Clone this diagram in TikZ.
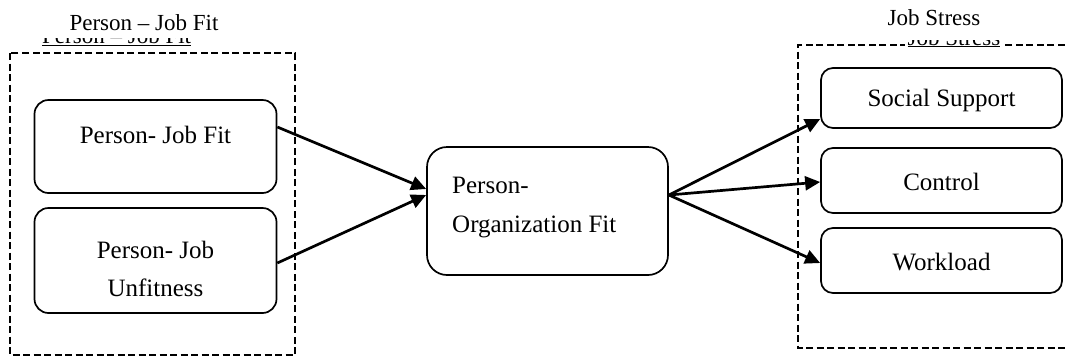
\documentclass[tikz,border=0pt]{standalone}
\usepackage{fontspec}
\setmainfont{Liberation Serif}
\usetikzlibrary{arrows.meta}
\begin{document}
\begin{tikzpicture}[x=1pt,y=-1pt,
  box/.style={draw, line width=1.7pt, rounded corners=14pt, inner sep=0pt},
  group/.style={draw, line width=2.3pt, dash pattern=on 7pt off 3.5pt},
  txt/.style={font=\fontsize{25}{30}\selectfont, inner sep=0pt, anchor=base},
  lbl/.style={font=\fontsize{23}{28}\selectfont, inner sep=0pt, anchor=base},
  conn/.style={line width=2.7pt, -{Triangle[length=15pt,width=14pt]}}]
\useasboundingbox (0,0) rectangle (1065,357);

% group frames
\draw[group] (10,53) rectangle (295,355);
\draw[group] (1075,45) -- (798,45) -- (798,348) -- (1075,348);

% half-hidden underlined headings
\begin{scope}
\clip (30,38.5) rectangle (250,50);
\node[lbl, anchor=base west] (hl) at (42,43.5) {\underline{Person – Job Fit}};
\end{scope}
\begin{scope}
\clip (895,40) rectangle (1015,49);
\node[lbl, fill=white, inner xsep=3pt] (hr) at (954,45) {\underline{Job Stress}};
\end{scope}

% headings
\node[lbl] (tl) at (144,30) {Person – Job Fit};
\node[lbl] (tr) at (934,25) {Job Stress};

% boxes
\node[box, minimum width=242pt, minimum height=93pt] (pjf) at (155.5,146.5) {};
\node[box, minimum width=242pt, minimum height=105pt] (pju) at (155.5,260.5) {};
\node[box, rounded corners=20pt, minimum width=241pt, minimum height=128pt] (pof) at (547.5,211) {};
\node[box, rounded corners=12pt, minimum width=241pt, minimum height=60pt] (ss) at (941.5,98) {};
\node[box, rounded corners=12pt, minimum width=241pt, minimum height=65pt] (ct) at (941.5,180.5) {};
\node[box, rounded corners=12pt, minimum width=241pt, minimum height=65pt] (wl) at (941.5,260.5) {};

% texts
\node[txt] (t1) at (155.5,143) {Person- Job Fit};
\node[txt] (t2) at (155.5,258) {Person- Job};
\node[txt] (t3) at (155.5,296) {Unfitness};
\node[txt, anchor=base west] (t4) at (452,193) {Person-};
\node[txt, anchor=base west] (t5) at (452,232) {Organization Fit};
\node[txt] (t6) at (941.5,106) {Social Support};
\node[txt] (t7) at (941.5,190) {Control};
\node[txt] (t8) at (941.5,270) {Workload};

% connectors
\draw[conn] ([yshift=19.5pt]pjf.east) -- ([yshift=22pt]pof.west);
\draw[conn] ([yshift=-2.5pt]pju.east) -- ([yshift=16pt]pof.west);
\draw[conn] ([yshift=16pt]pof.east) -- ([yshift=-21pt]ss.west);
\draw[conn] ([yshift=16pt]pof.east) -- ([yshift=-1.5pt]ct.west);
\draw[conn] ([yshift=16pt]pof.east) -- ([yshift=-2.5pt]wl.west);
\end{tikzpicture}
\end{document}
